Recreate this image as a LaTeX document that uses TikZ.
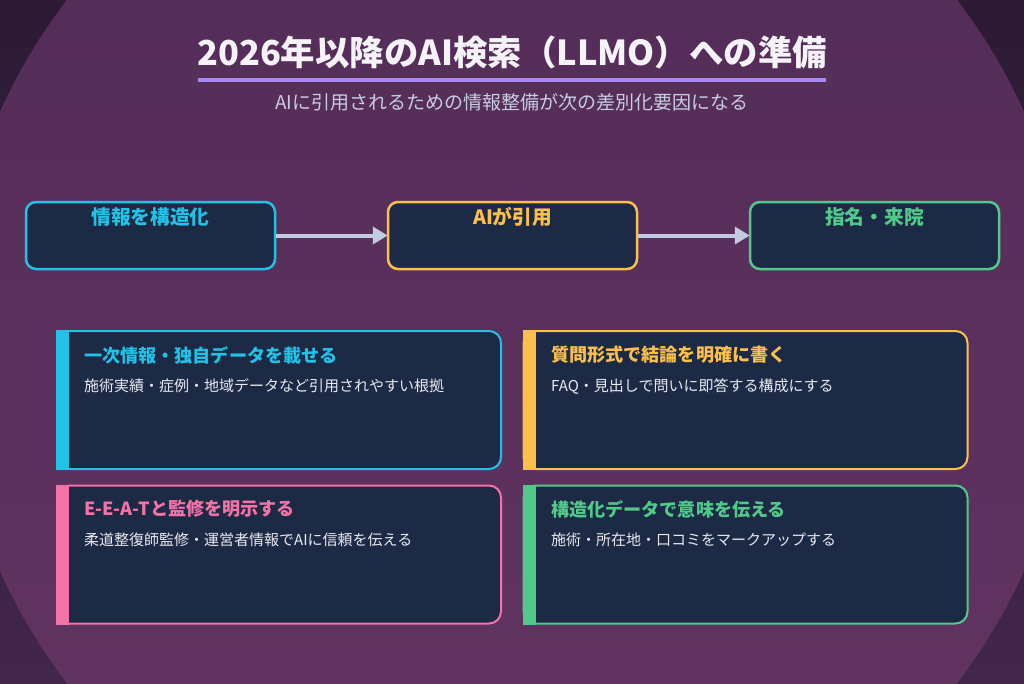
\documentclass[tikz,border=0pt]{standalone}
\usepackage{fontspec}
\setmainfont{Noto Sans CJK JP}
\usetikzlibrary{arrows.meta}

\definecolor{outerTop}{HTML}{2C1A34}
\definecolor{outerBot}{HTML}{42264B}
\definecolor{innerTop}{HTML}{512B57}
\definecolor{innerBot}{HTML}{643562}
\definecolor{panel}{HTML}{1D2A46}
\definecolor{cyanC}{HTML}{22C1E6}
\definecolor{goldC}{HTML}{FBBF4C}
\definecolor{greenC}{HTML}{52C98A}
\definecolor{pinkC}{HTML}{F472A6}
\definecolor{arrowC}{HTML}{C3CBE0}
\definecolor{ruleC}{HTML}{A98AF0}
\definecolor{subC}{HTML}{C8CDE0}
\definecolor{bodyC}{HTML}{E8EAF0}
\definecolor{titleC}{HTML}{F5F3F8}

\tikzset{
  flowbox/.style={draw=#1, fill=panel, line width=2.5pt, rounded corners=10pt,
    minimum width=249pt, minimum height=67pt, inner sep=0pt},
  flowlabel/.style={text=#1, font=\bfseries\fontsize{19.7}{24}\selectfont, inner sep=0pt},
  card/.style={draw=#1, fill=panel, line width=2pt, rounded corners=12pt,
    minimum width=444pt, minimum height=138pt, inner sep=0pt},
  cardtitle/.style={text=#1, anchor=west, font=\bfseries\fontsize{18.1}{22}\selectfont, inner sep=0pt},
  cardbody/.style={text=bodyC, anchor=west, font=\fontsize{15}{18}\selectfont, inner sep=0pt},
  flowarrow/.style={draw=arrowC, line width=4pt, -{Triangle[length=15pt,width=17pt]}, shorten >=-1pt},
}

\begin{document}
\begin{tikzpicture}[x=1pt,y=-1pt]
\useasboundingbox (0,0) rectangle (1024,683);

% backdrop: dark field with a large lighter disc
\shade[top color=outerTop, bottom color=outerBot] (0,0) rectangle (1024,683);
\shade[top color=innerTop, bottom color=innerBot] (512,341.5) circle[radius=561pt];

% heading
\node[text=titleC, font=\bfseries\fontsize{34.4}{40}\selectfont, inner sep=0pt] (title) at (512,52)
  {2026年以降のAI検索（LLMO）への準備};
\coordinate (ruleL) at (198,80);
\coordinate (ruleR) at (826,80);
\draw[ruleC, line width=4pt] (ruleL) -- (ruleR);
\node[text=subC, font=\fontsize{19}{23}\selectfont, inner sep=0pt] (subtitle) at (512,102)
  {AIに引用されるための情報整備が次の差別化要因になる};

% flow row
\node[flowbox=cyanC]  (f1) at (150.5,235.5) {};
\node[flowbox=goldC]  (f2) at (512.5,235.5) {};
\node[flowbox=greenC] (f3) at (874.5,235.5) {};
\node[flowlabel=cyanC]  (f1t) at (150.5,217) {情報を構造化};
\node[flowlabel=goldC]  (f2t) at (512.5,217) {AIが引用};
\node[flowlabel=greenC] (f3t) at (874.5,217) {指名・来院};
\draw[flowarrow] (f1.east) -- (f2.west);
\draw[flowarrow] (f2.east) -- (f3.west);

% cards
\node[card=cyanC]  (c1) at (279,400)    {};
\node[card=goldC]  (c2) at (745.5,400)  {};
\node[card=pinkC]  (c3) at (279,554.5)  {};
\node[card=greenC] (c4) at (745.5,554.5) {};
\fill[cyanC]  (c1.north west) rectangle ([xshift=13pt]c1.south west);
\fill[goldC]  (c2.north west) rectangle ([xshift=13pt]c2.south west);
\fill[pinkC]  (c3.north west) rectangle ([xshift=13pt]c3.south west);
\fill[greenC] (c4.north west) rectangle ([xshift=13pt]c4.south west);

\node[cardtitle=cyanC] (c1h) at (84,355) {一次情報・独自データを載せる};
\node[cardbody] (c1b) at (84,386) {施術実績・症例・地域データなど引用されやすい根拠};
\node[cardtitle=goldC] (c2h) at (551,355) {質問形式で結論を明確に書く};
\node[cardbody] (c2b) at (551,386) {FAQ・見出しで問いに即答する構成にする};
\node[cardtitle=pinkC] (c3h) at (84,509) {E-E-A-Tと監修を明示する};
\node[cardbody] (c3b) at (84,540) {柔道整復師監修・運営者情報でAIに信頼を伝える};
\node[cardtitle=greenC] (c4h) at (551,509) {構造化データで意味を伝える};
\node[cardbody] (c4b) at (551,540) {施術・所在地・口コミをマークアップする};
\end{tikzpicture}
\end{document}
